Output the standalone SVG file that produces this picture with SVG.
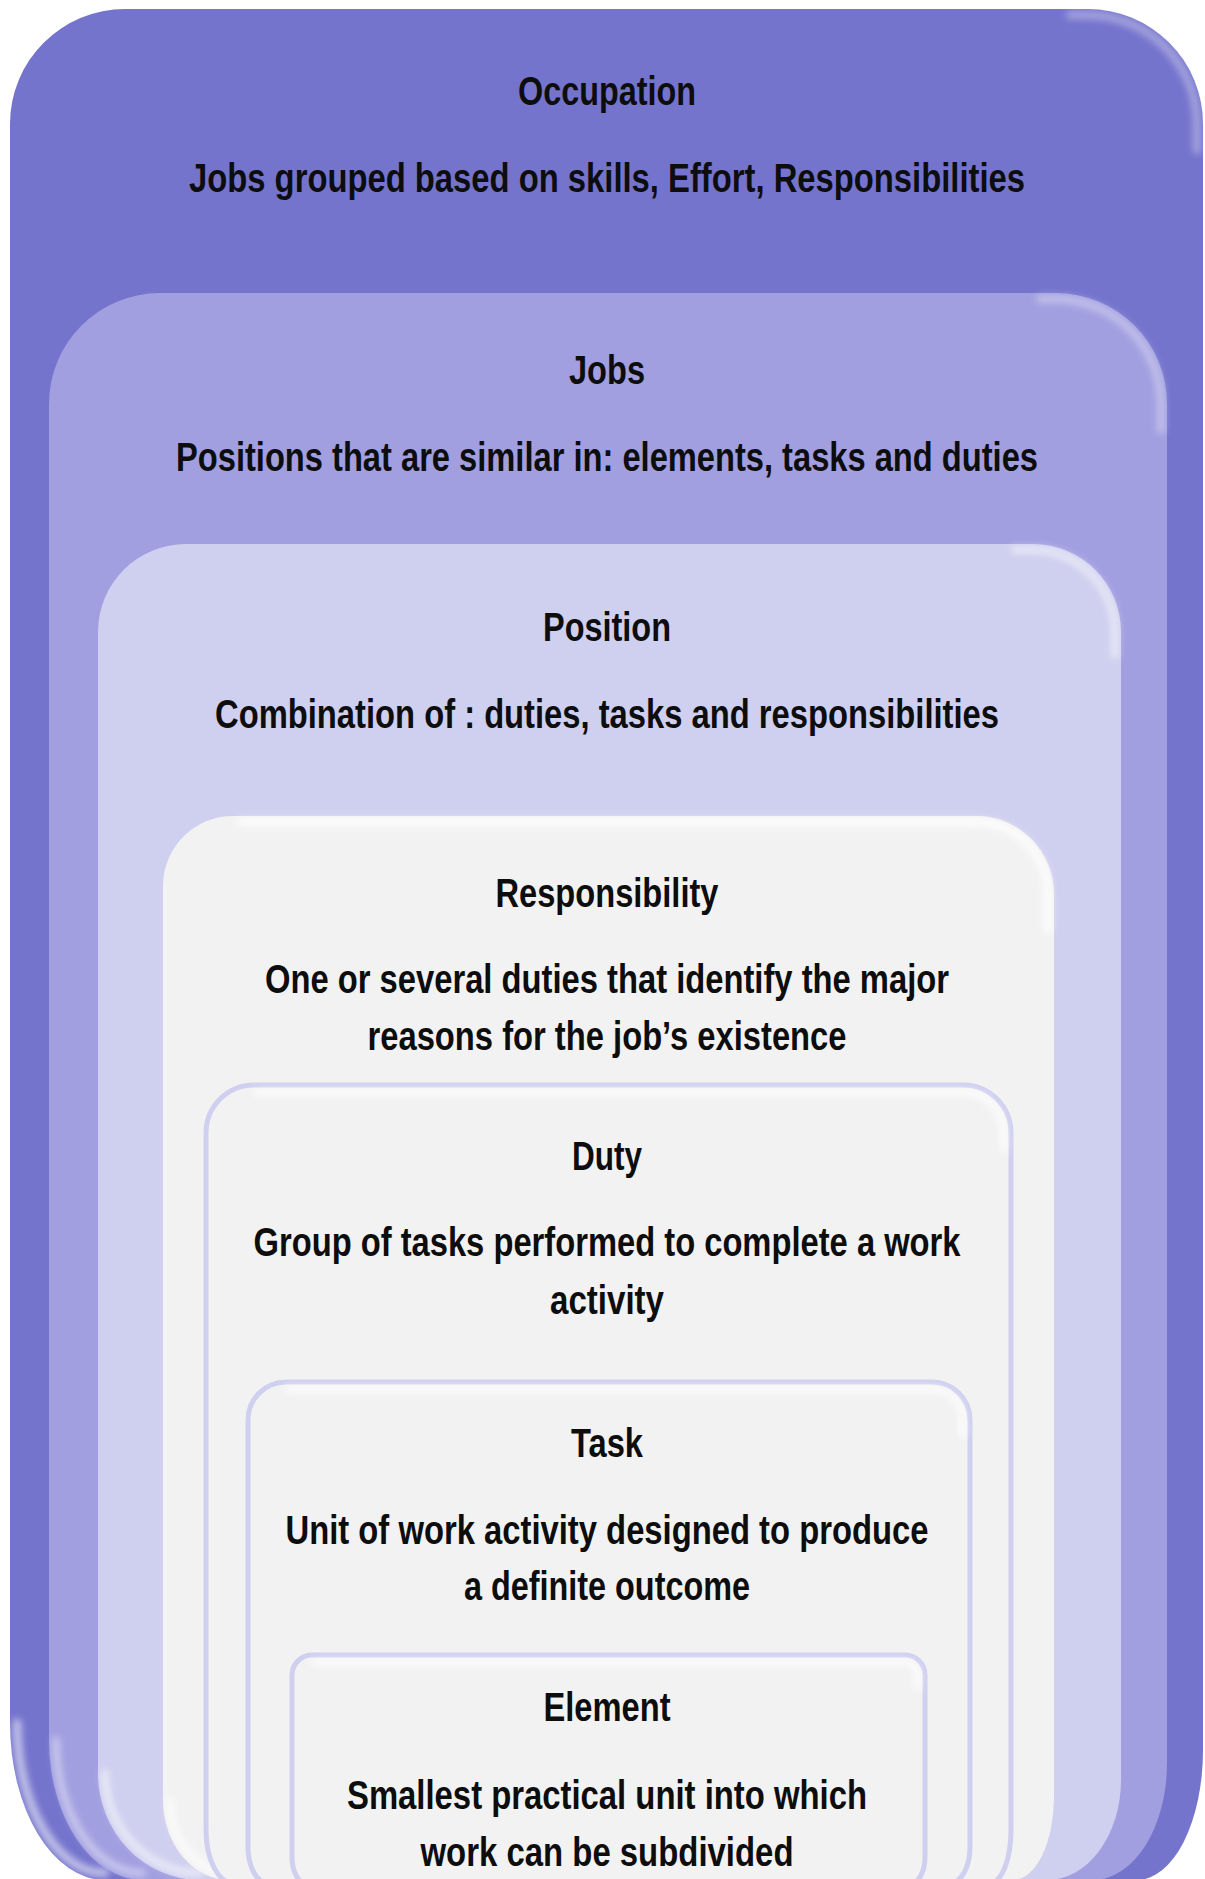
<svg xmlns="http://www.w3.org/2000/svg" width="1205" height="1879" viewBox="0 0 1205 1879">
  <style>
    .t { font-family: "Liberation Sans Narrow", "Liberation Sans", Arial, sans-serif; font-weight: bold; font-size: 40px; fill: #0d0d0d; text-anchor: middle; }
    .tw { font-size: 33.3px; }
    .sheen { fill: none; stroke: #ffffff; stroke-linecap: round; filter: url(#blur); }
    .inner { fill: #f2f2f2; stroke: #cfcff0; stroke-width: 5; }
  </style>
  <defs>
    <filter id="blur" filterUnits="userSpaceOnUse" x="0" y="0" width="1205" height="1879">
      <feGaussianBlur stdDeviation="3.5"/>
    </filter>
  </defs>
  <rect x="0" y="0" width="1205" height="1879" fill="#ffffff"/>

  <g id="node-occupation">
    <path d="M10,124 A115,115 0 0 1 125,9 H1088 A115,115 0 0 1 1203,124 V1750 A66,130 0 0 1 1137,1880 H105 A95,157 0 0 1 10,1723 Z" fill="#7574cd"/>
    <path class="sheen" d="M1070,15 H1088 A109,109 0 0 1 1197,124 V150" stroke-width="8" opacity="0.35"/>
    <path class="sheen" d="M17,1723 A88,150 0 0 0 105,1873" stroke="#a9a9ff" stroke-width="8" opacity="0.6"/>
    <text class="t" x="607" y="105" textLength="178" lengthAdjust="spacingAndGlyphs">Occupation</text>
    <text class="t tw" transform="translate(607,192) scale(1,1.2)" x="0" y="0" textLength="836" lengthAdjust="spacingAndGlyphs">Jobs grouped based on skills, Effort, Responsibilities</text>
  </g>

  <g id="node-jobs">
    <path d="M49,404 A111,111 0 0 1 160,293 H1056 A111,111 0 0 1 1167,404 V1763 A74,117 0 0 1 1093,1880 H143 A94,140 0 0 1 49,1740 Z" fill="#a19fe0"/>
    <path class="sheen" d="M1040,299 H1056 A105,105 0 0 1 1161,404 V430" stroke-width="8" opacity="0.35"/>
    <path class="sheen" d="M56,1740 A87,133 0 0 0 143,1873" stroke-width="7" opacity="0.45"/>
    <text class="t" x="607" y="384" textLength="76" lengthAdjust="spacingAndGlyphs">Jobs</text>
    <text class="t tw" transform="translate(607,471) scale(1,1.2)" x="0" y="0" textLength="862" lengthAdjust="spacingAndGlyphs">Positions that are similar in: elements, tasks and duties</text>
  </g>

  <g id="node-position">
    <path d="M98,632 A88,88 0 0 1 186,544 H1033 A88,88 0 0 1 1121,632 V1780 A74,100 0 0 1 1047,1880 H200 A102,107 0 0 1 98,1773 Z" fill="#cfcfef"/>
    <path class="sheen" d="M1015,550 H1033 A82,82 0 0 1 1115,632 V655" stroke-width="8" opacity="0.5"/>
    <path class="sheen" d="M105,1773 A95,100 0 0 0 200,1873" stroke-width="7" opacity="0.6"/>
    <text class="t" x="607" y="641" textLength="128" lengthAdjust="spacingAndGlyphs">Position</text>
    <text class="t" x="607" y="728" textLength="784" lengthAdjust="spacingAndGlyphs">Combination of : duties, tasks and responsibilities</text>
  </g>

  <g id="node-responsibility">
    <path d="M163,886 A70,70 0 0 1 233,816 H976 A78,78 0 0 1 1054,894 V1797 A41,83 0 0 1 1013,1880 H230 A67,80 0 0 1 163,1800 Z" fill="#f2f2f2"/>
    <path class="sheen" d="M240,822 H976 A72,72 0 0 1 1048,894 V930" stroke-width="7" opacity="0.9"/>
    <path class="sheen" d="M170,1800 A60,73 0 0 0 230,1873" stroke-width="6" opacity="0.8"/>
    <text class="t" x="607" y="907" textLength="223" lengthAdjust="spacingAndGlyphs">Responsibility</text>
    <text class="t" x="607" y="993" textLength="684" lengthAdjust="spacingAndGlyphs">One or several duties that identify the major</text>
    <text class="t" x="607" y="1050" textLength="479" lengthAdjust="spacingAndGlyphs">reasons for the job’s existence</text>
  </g>

  <g id="node-duty">
    <path class="inner" d="M206,1133 A48,48 0 0 1 254,1085 H963 A48,48 0 0 1 1011,1133 V1830 A21,53 0 0 1 990,1883 H233 A27,53 0 0 1 206,1830 Z"/>
    <path class="sheen" d="M256,1092 H963 A41,41 0 0 1 1004,1133 V1150" stroke-width="5" opacity="0.95"/>
    <text class="t" x="607" y="1170" textLength="70" lengthAdjust="spacingAndGlyphs">Duty</text>
    <text class="t" x="607" y="1256" textLength="707" lengthAdjust="spacingAndGlyphs">Group of tasks performed to complete a work</text>
    <text class="t" x="607" y="1314" textLength="114" lengthAdjust="spacingAndGlyphs">activity</text>
  </g>

  <g id="node-task">
    <path class="inner" d="M248,1420 A38,38 0 0 1 286,1382 H932 A38,38 0 0 1 970,1420 V1847 A20,36 0 0 1 950,1883 H268 A20,36 0 0 1 248,1847 Z"/>
    <path class="sheen" d="M288,1389 H932 A31,31 0 0 1 963,1420 V1435" stroke-width="5" opacity="0.95"/>
    <text class="t" x="607" y="1457" textLength="72" lengthAdjust="spacingAndGlyphs">Task</text>
    <text class="t" x="607" y="1544" textLength="643" lengthAdjust="spacingAndGlyphs">Unit of work activity designed to produce</text>
    <text class="t" x="607" y="1600" textLength="286" lengthAdjust="spacingAndGlyphs">a definite outcome</text>
  </g>

  <g id="node-element">
    <path class="inner" d="M292,1675 A20,20 0 0 1 312,1655 H905 A20,20 0 0 1 925,1675 V1857 A14,26 0 0 1 911,1883 H306 A14,26 0 0 1 292,1857 Z"/>
    <path class="sheen" d="M314,1662 H905 A13,13 0 0 1 918,1675 V1688" stroke-width="5" opacity="0.95"/>
    <text class="t" x="607" y="1721" textLength="127" lengthAdjust="spacingAndGlyphs">Element</text>
    <text class="t" x="607" y="1809" textLength="520" lengthAdjust="spacingAndGlyphs">Smallest practical unit into which</text>
    <text class="t" x="607" y="1866" textLength="373" lengthAdjust="spacingAndGlyphs">work can be subdivided</text>
  </g>

  <g id="connectors"/>
</svg>
